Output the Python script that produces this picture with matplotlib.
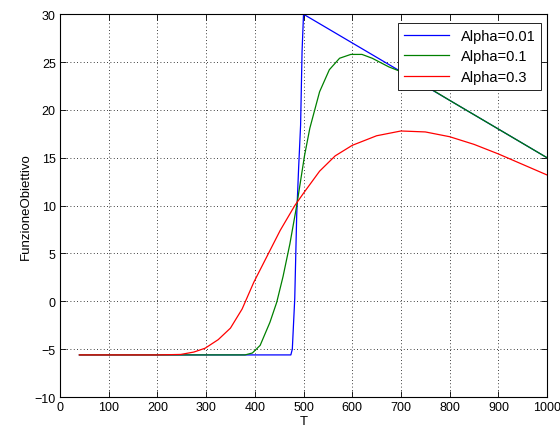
import numpy as np
import matplotlib.pyplot as plt

plt.rcParams['font.family'] = ['Liberation Sans', 'DejaVu Sans']
plt.rcParams['font.size'] = 9

# Alpha = 0.01
t_a1 = [40, 200, 400, 474, 477, 482, 486, 490, 494, 497, 500, 600, 700, 800, 900, 1000]
f_a1 = [-5.6, -5.6, -5.6, -5.6, -5.0, 0.3, 9.0, 14.0, 18.4, 26.1, 30.0, 27.0, 24.0, 21.0, 18.0, 15.0]

# Alpha = 0.1
t_a2 = [40, 200, 380, 395, 411, 431, 445, 458, 472, 486, 502, 513, 533, 553, 574, 597,
        620, 641, 675, 700, 725, 800, 900, 1000]
f_a2 = [-5.6, -5.6, -5.6, -5.4, -4.6, -2.2, -0.1, 2.6, 6.0, 10.0, 15.2, 18.1, 21.9, 24.2,
        25.4, 25.8, 25.8, 25.4, 24.5, 24.0, 23.3, 21.0, 18.0, 15.0]

# Alpha = 0.3
t_a3 = [40, 100, 200, 248, 275, 298, 325, 350, 374, 398, 428, 452, 482, 500, 533, 565,
        600, 650, 700, 750, 800, 850, 900, 950, 1000]
f_a3 = [-5.6, -5.6, -5.6, -5.55, -5.3, -4.9, -4.0, -2.8, -0.8, 2.0, 5.0, 7.4, 10.0, 11.3,
        13.6, 15.2, 16.3, 17.3, 17.8, 17.7, 17.2, 16.4, 15.4, 14.3, 13.2]

fig = plt.figure(figsize=(5.6, 4.35), dpi=100)
ax = fig.add_axes([0.107, 0.085, 0.870, 0.880])

ax.plot(t_a1, f_a1, color=(0, 0, 1), lw=0.9, label='Alpha=0.01')
ax.plot(t_a2, f_a2, color=(0, 0.5, 0), lw=0.9, label='Alpha=0.1')
ax.plot(t_a3, f_a3, color=(1, 0, 0), lw=0.9, label='Alpha=0.3')

ax.set_xlim(0, 1000)
ax.set_ylim(-10, 30)
ax.set_xticks(np.arange(0, 1001, 100))
ax.set_yticks(np.arange(-10, 31, 5))
ax.grid(True, color='black', linestyle=(0, (1, 3)), linewidth=0.6)
ax.tick_params(direction='in', top=True, right=True, length=4, width=0.6, pad=3,
               labelsize=9)
for s in ax.spines.values():
    s.set_linewidth(0.8)

ax.set_xlabel('T', labelpad=1, fontsize=9.5)
ax.set_ylabel('FunzioneObiettivo', labelpad=2, fontsize=9.5)

leg = ax.legend(loc='upper right', bbox_to_anchor=(0.988, 0.977), borderaxespad=0,
                fancybox=False, framealpha=1, edgecolor='black',
                handlelength=3.1, labelspacing=0.45, fontsize=10.5)
leg.get_frame().set_linewidth(0.6)

fig.savefig('out.png', dpi=100)
